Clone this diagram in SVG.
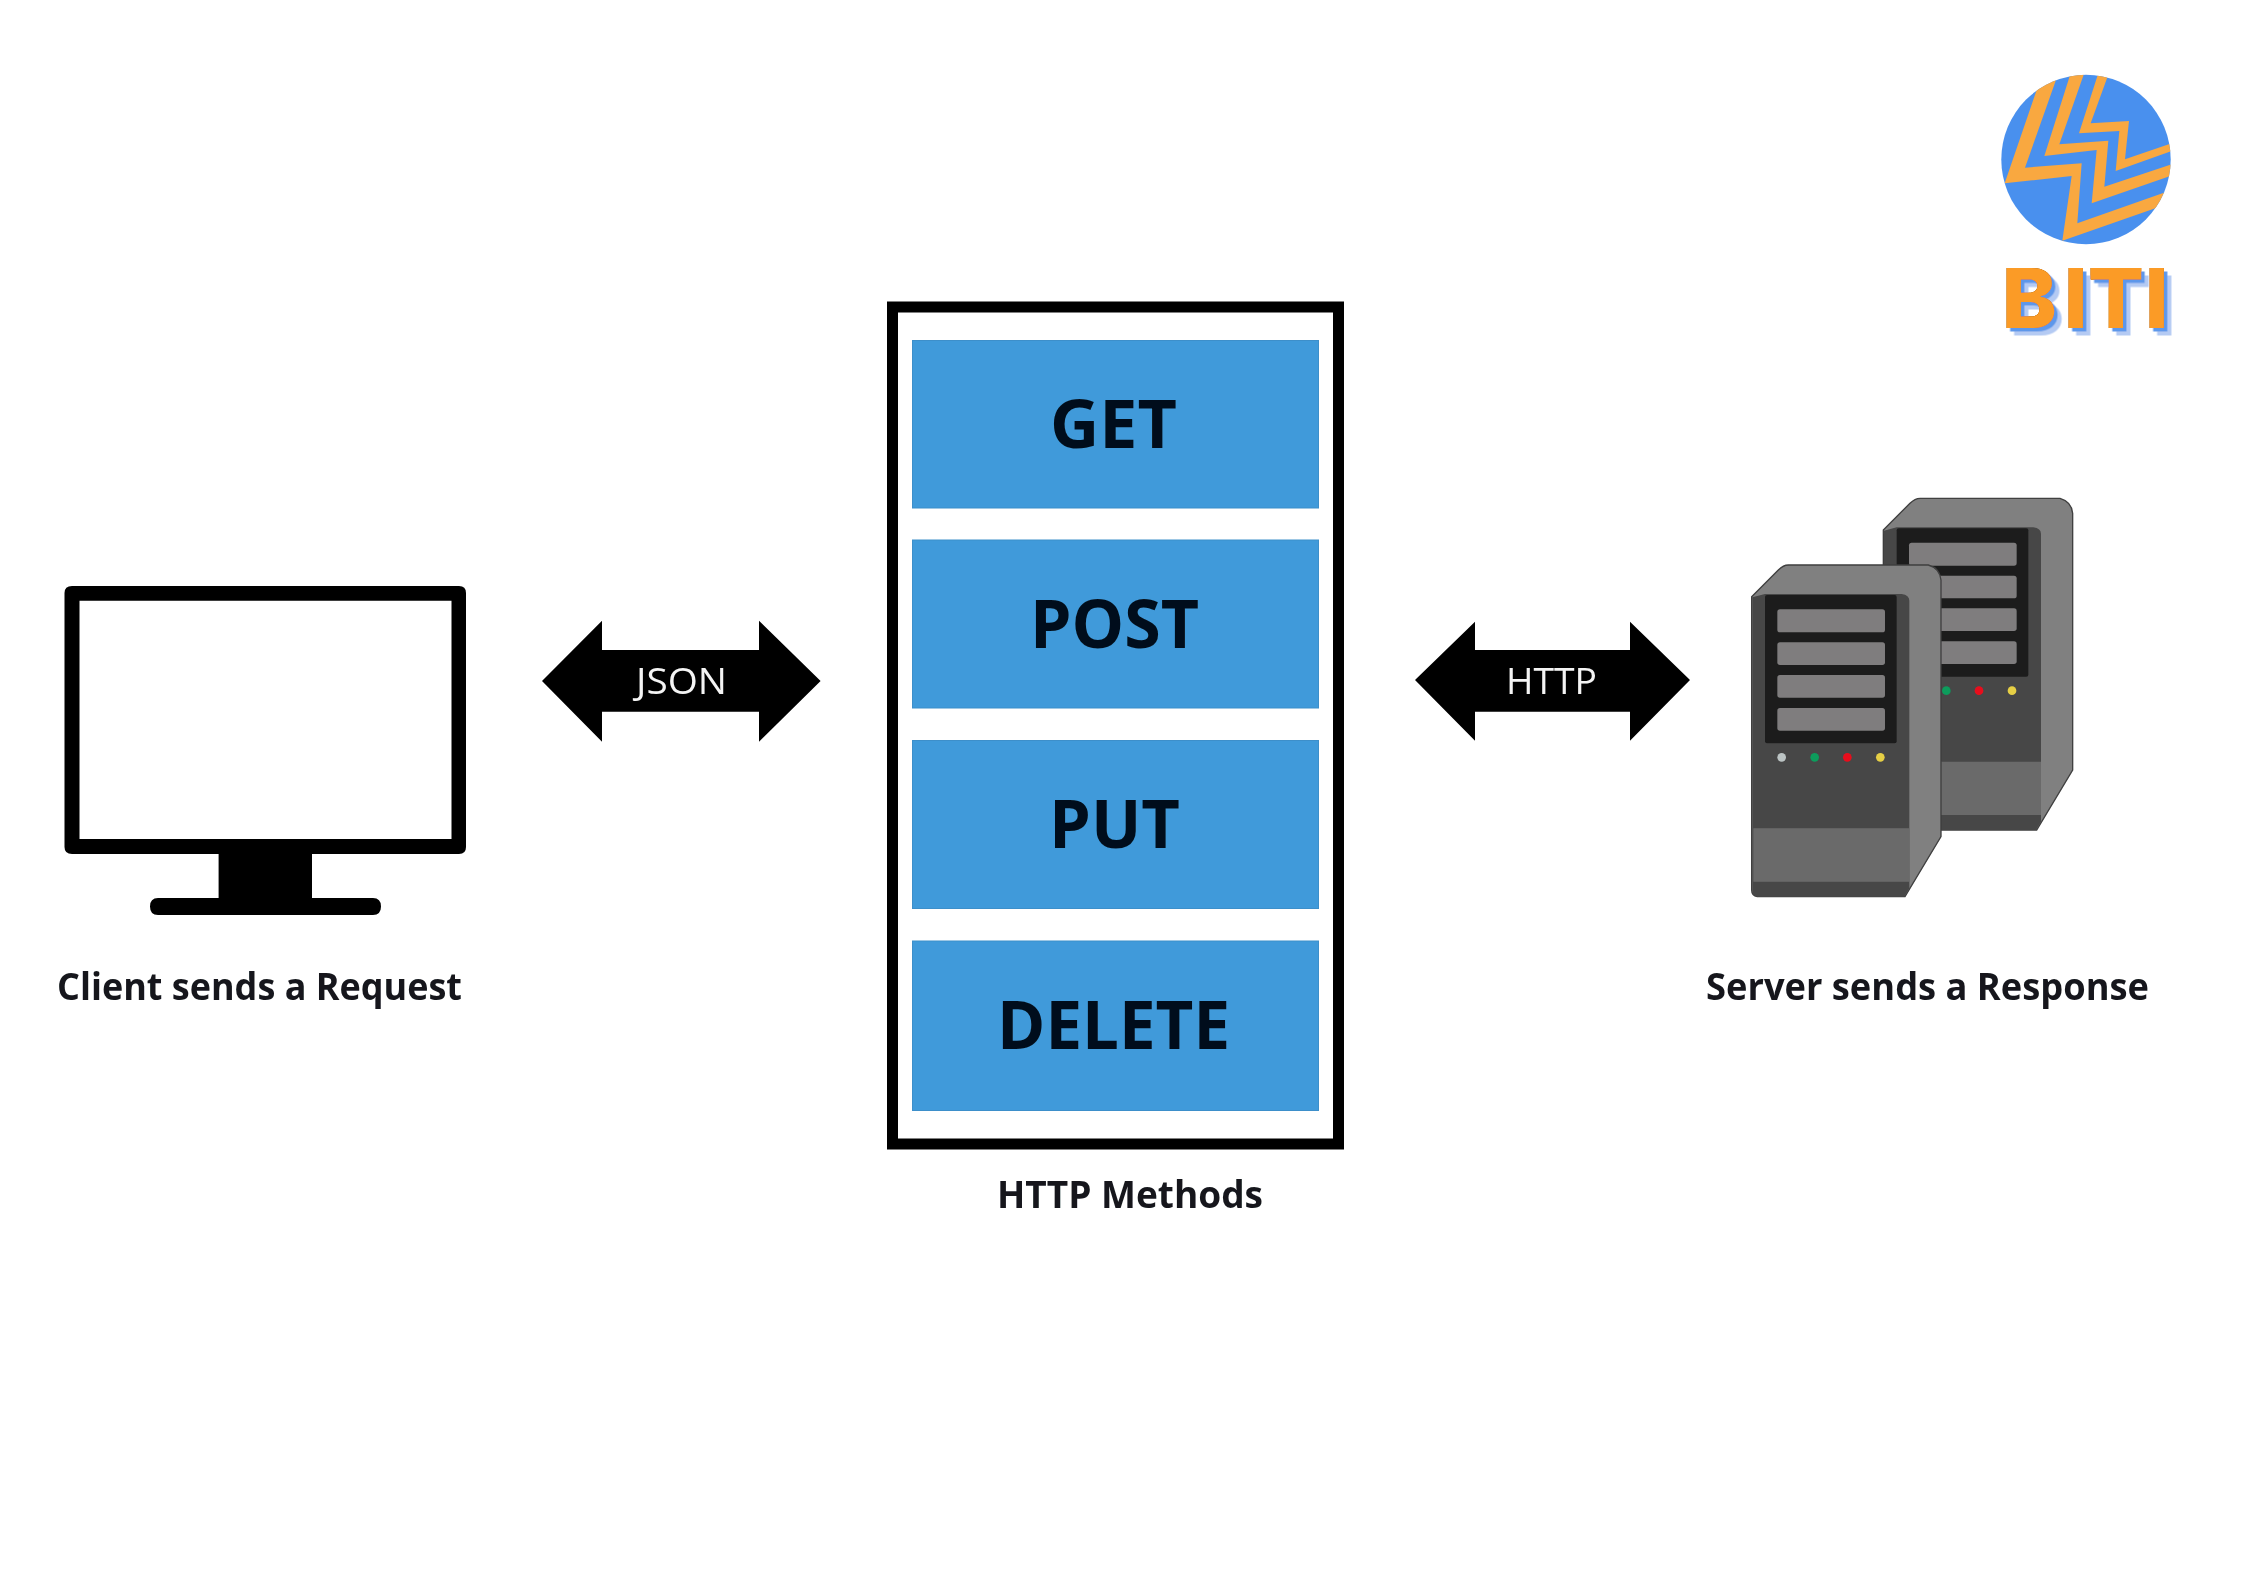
<svg xmlns="http://www.w3.org/2000/svg" width="2245" height="1587" viewBox="0 0 2245 1587">
<style>
.m{fill:#409ada;stroke:#3d8fca;stroke-width:1}
.mt{font-family:"Open Sans","Noto Sans",sans-serif;font-weight:700;font-size:66px;fill:#06101a}
.lb{font-family:"Open Sans","Noto Sans",sans-serif;font-weight:700;font-size:37px;fill:#14171c}
.at{font-family:"Open Sans","Noto Sans",sans-serif;font-weight:400;font-size:37px;fill:#f4f4f4}
.o{fill:#f9a83f}
.soft{filter:url(#soft)}
</style>
<defs>
<filter id="soft" x="-2%" y="-2%" width="104%" height="104%"><feGaussianBlur stdDeviation="0.7"/></filter>
<clipPath id="cc"><circle cx="2086" cy="159.5" r="84.7"/></clipPath>
<filter id="sh" x="-10%" y="-20%" width="125%" height="150%">
<feDropShadow dx="7.5" dy="7.5" stdDeviation="0.4" flood-color="#b4caf3" result="a"/>
<feDropShadow in="SourceAlpha" dx="3.5" dy="3.5" stdDeviation="0.4" flood-color="#5d97ea" result="b"/>
<feMerge><feMergeNode in="a"/><feMergeNode in="b"/><feMergeNode in="SourceGraphic"/></feMerge>
</filter>
<g id="srv">
<path d="M95,350L175,270Q190,255 205,255H625Q660,265 663,300V1070L555,1250H112Q95,1247 95,1230Z" fill="#808080" stroke="#3f3f3f" stroke-width="4"/>
<path d="M97,352L135,342H545Q568,345 568,362V1225L553,1250H112Q97,1247 97,1230Z" fill="#474747"/>
<rect x="135" y="345" width="395" height="445" rx="6" fill="#1c1c1c"/>
<g fill="#7f7d7e">
<rect x="172" y="388" width="323" height="69" rx="8"/>
<rect x="172" y="487" width="323" height="68" rx="8"/>
<rect x="172" y="585" width="323" height="68" rx="8"/>
<rect x="172" y="684" width="323" height="68" rx="8"/>
</g>
<circle cx="185" cy="832" r="13" fill="#bcc4c4"/>
<circle cx="284" cy="832" r="13" fill="#0b9c5c"/>
<circle cx="382" cy="832" r="13" fill="#e8101c"/>
<circle cx="481" cy="832" r="13" fill="#e6cf45"/>
<path d="M100,1045H568V1205H100Z" fill="#6b6b6b"/>
</g>
</defs>
<rect width="2245" height="1587" fill="#fff"/>
<g id="client" class="soft">
<path fill-rule="evenodd" d="M72,586H459Q466,586 466,593V847Q466,854 459,854H312V898H373Q381,898 381,906.500Q381,915 373,915H158Q150,915 150,906.500Q150,898 158,898H218.600V854H72Q64.500,854 64.500,847V593Q64.500,586 72,586ZM79.500,600.700V839H451.500V600.700Z" fill="#000"/>
<text class="lb" x="57" y="1000" textLength="405" lengthAdjust="spacingAndGlyphs">Client sends a Request</text>
</g>
<g id="connectors" class="soft">
<g id="json-link">
<path d="M542,681L602,620.700V650H759V620.700L820.600,681L759,741.700V711.700H602V741.700Z" fill="#000"/>
<text class="at" x="636" y="694" textLength="91" lengthAdjust="spacingAndGlyphs">JSON</text>
</g>
<g id="http-link">
<path d="M1415,680L1475,621.700V650H1630V621.700L1690,680L1630,740.700V711.700H1475V740.700Z" fill="#000"/>
<text class="at" x="1506" y="694" textLength="91" lengthAdjust="spacingAndGlyphs">HTTP</text>
</g>
</g>
<g id="http-methods" class="soft">
<rect x="892.500" y="307" width="446" height="837" fill="#fff" stroke="#000" stroke-width="11"/>
<g id="get"><rect class="m" x="912.500" y="340.500" width="406" height="167.500"/><text class="mt" x="1050" y="448" textLength="127" lengthAdjust="spacingAndGlyphs">GET</text></g>
<g id="post"><rect class="m" x="912.500" y="540" width="406" height="168"/><text class="mt" x="1030" y="648" textLength="169" lengthAdjust="spacingAndGlyphs">POST</text></g>
<g id="put"><rect class="m" x="912.500" y="740.500" width="406" height="168"/><text class="mt" x="1049" y="848" textLength="131" lengthAdjust="spacingAndGlyphs">PUT</text></g>
<g id="delete"><rect class="m" x="912.500" y="941" width="406" height="169.500"/><text class="mt" x="997" y="1049" textLength="233" lengthAdjust="spacingAndGlyphs">DELETE</text></g>
<text class="lb" x="997" y="1208" textLength="266" lengthAdjust="spacingAndGlyphs">HTTP Methods</text>
</g>
<g id="server" class="soft">
<g transform="translate(1720,480) scale(.33333)">
<use href="#srv" x="395" y="-200"/>
<use href="#srv"/>
</g>
<text class="lb" x="1706" y="1000" textLength="443" lengthAdjust="spacingAndGlyphs">Server sends a Response</text>
</g>
<g id="logo">
<g class="soft">
<circle cx="2086" cy="159.500" r="84.700" fill="#4a90ee"/>
<g clip-path="url(#cc)">
<g transform="translate(2000,70) scale(.33333)">
<path class="o" d="M175,10L75,293L245,280L232,460L530,355L530,392L187,512L215,318L14,340L110,60Z"/>
<path class="o" d="M215,0L256,0L178,223L325,212L313,350L530,278L530,311L275,400L290,240L133,258Z"/>
<path class="o" d="M298,0L330,0L272,160L387,153L375,268L530,215L530,238L347,303L358,183L237,190Z"/>
</g>
</g>
</g>
<text x="2002 2064 2088 2145" y="328" font-family="Inter,'Liberation Sans',sans-serif" font-weight="800" font-size="82.500" fill="#fb9b28" filter="url(#sh)">BITI</text>
</g>
</svg>
